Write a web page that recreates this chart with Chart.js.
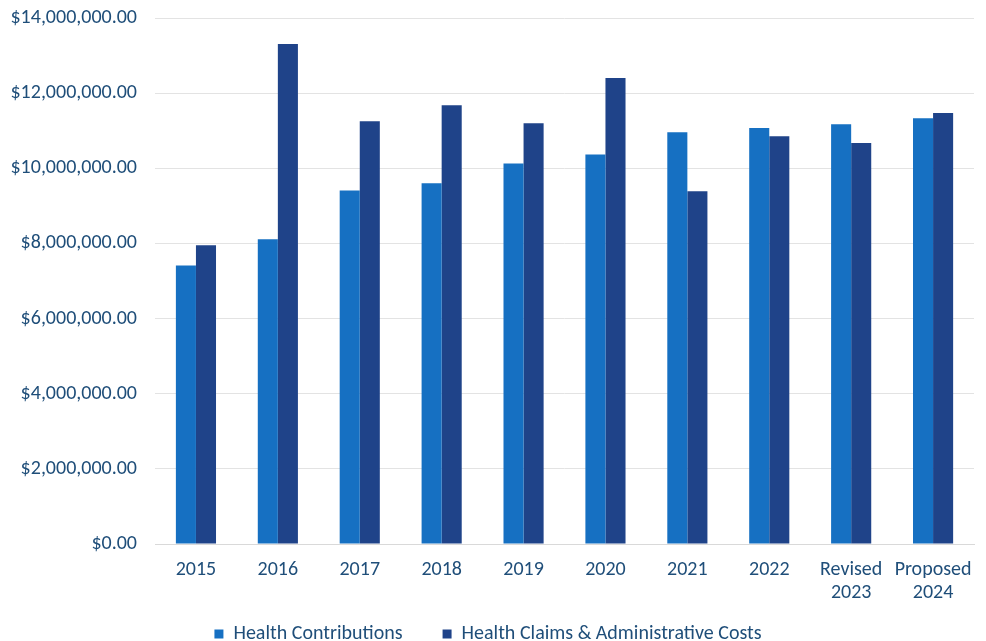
<!DOCTYPE html>
<html><head><meta charset="utf-8">
<script src="https://cdn.jsdelivr.net/npm/chart.js@4/dist/chart.umd.min.js"></script>
<style>html,body{margin:0;padding:0;background:#fff}#wrap{width:986px;height:641px}</style>
</head><body><div id="wrap"><canvas id="c" width="986" height="641"></canvas></div>
<script>
const categories = [["2015"],["2016"],["2017"],["2018"],["2019"],["2020"],["2021"],["2022"],["Revised","2023"],["Proposed","2024"]];
const contributions = [7410000, 8110000, 9410000, 9600000, 10130000, 10370000, 10960000, 11070000, 11170000, 11330000];
const claimsAdmin = [7950000, 13310000, 11250000, 11680000, 11200000, 12400000, 9390000, 10850000, 10670000, 11470000];
const yTicks = [0, 2000000, 4000000, 6000000, 8000000, 10000000, 12000000, 14000000];
const FONT = "Carlito, 'Liberation Sans Narrow', Lato, sans-serif";
const TXT = '#1f4e79';
const legendSizer = {
  id: 'legendSizer',
  afterInit(chart) {
    const lg = chart.legend;
    if (!lg) return;
    const origFit = lg.fit;
    lg.fit = function() { origFit.call(this); this.height = 23; };
    const origDraw = lg.draw;
    lg.draw = function() { const t = this.top; this.top = t - 34; origDraw.call(this); this.top = t; };
  }
};
new Chart(document.getElementById('c'), {
  type: 'bar',
  data: {
    labels: categories,
    datasets: [
      {label: 'Health Contributions', data: contributions, backgroundColor: '#1670c2', barPercentage: 1.0, categoryPercentage: 0.49},
      {label: 'Health Claims & Administrative Costs', data: claimsAdmin, backgroundColor: '#1f4389', barPercentage: 1.0, categoryPercentage: 0.49}
    ]
  },
  plugins: [legendSizer],
  options: {
    responsive: false, animation: false,
    layout: {padding: {top: 18, right: 10, left: 0, bottom: 0}},
    plugins: {
      legend: {position: 'bottom', labels: {boxWidth: 9, boxHeight: 9, color: TXT, font: {family: FONT, size: 20}, padding: 40}},
      tooltip: {enabled: false}
    },
    scales: {
      x: {grid: {display: false, drawTicks: false}, border: {display: true, color: '#d9d9d9'},
          ticks: {color: TXT, font: {family: FONT, size: 20, lineHeight: 1.15}, maxRotation: 0, padding: 14}},
      y: {min: 0, max: 14000000, afterBuildTicks: s => { s.ticks = yTicks.map(v => ({value: v})); },
          grid: {color: '#e3e3e3', drawTicks: false}, border: {display: false},
          afterFit: s => { s.width = 155; s.paddingTop = 0; s.paddingBottom = 0; },
          ticks: {color: TXT, font: {family: FONT, size: 20}, padding: 18,
                  callback: v => '$' + Number(v).toLocaleString('en-US', {minimumFractionDigits: 2, maximumFractionDigits: 2})}}
    }
  }
});
</script></body></html>
